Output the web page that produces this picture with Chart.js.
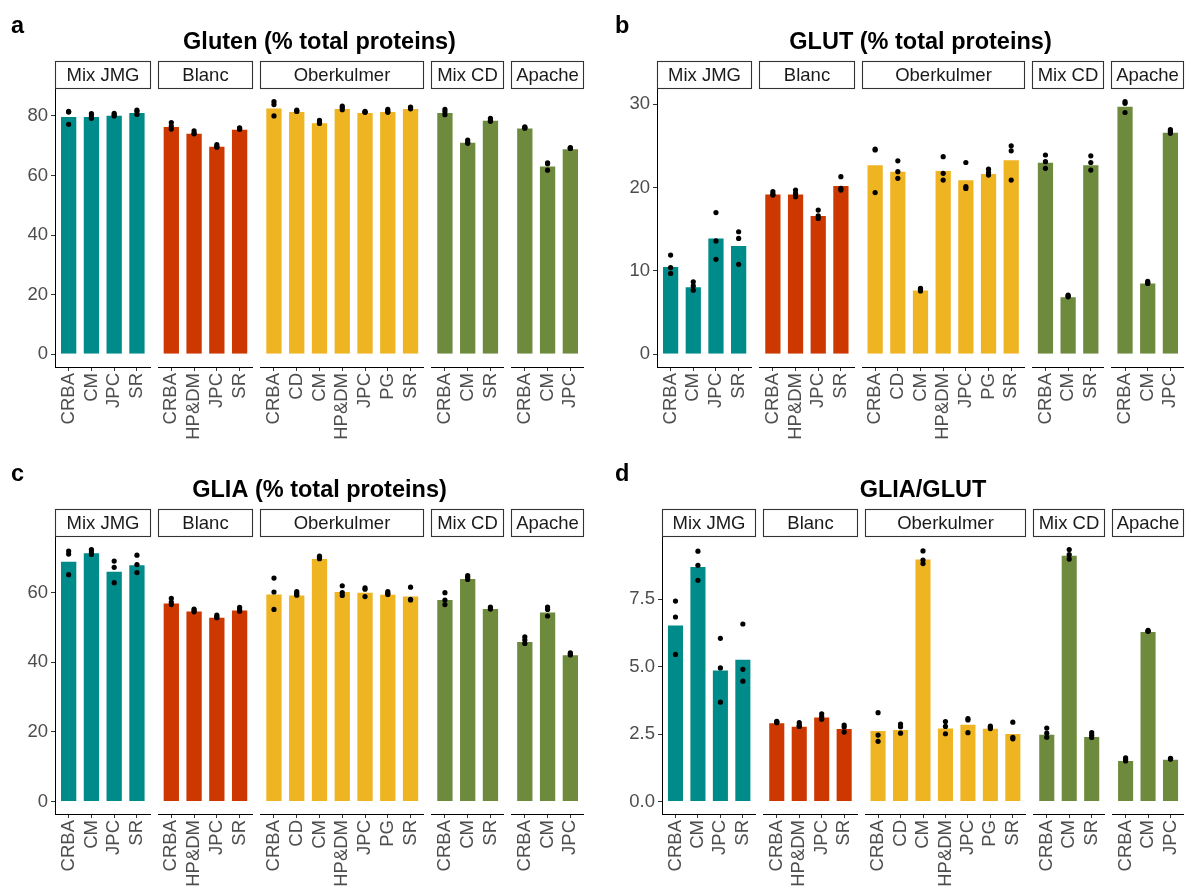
<!DOCTYPE html>
<html>
<head>
<meta charset="utf-8">
<script src="https://cdn.jsdelivr.net/npm/chart.js@4.4.1/dist/chart.umd.min.js"></script>
<style>
  body { margin: 0; background: #fff; width: 1188px; height: 886px; position: relative; overflow: hidden; }
  canvas { position: absolute; }
</style>
</head>
<body>
<canvas id="pa" width="594" height="443" style="left:0;top:0"></canvas>
<canvas id="pb" width="594" height="443" style="left:594px;top:0"></canvas>
<canvas id="pc" width="594" height="443" style="left:0;top:443px"></canvas>
<canvas id="pd" width="594" height="443" style="left:594px;top:443px"></canvas>
<script>
// varieties (facets) and the lines grown for each
const groups = ['Mix JMG', 'Blanc', 'Oberkulmer', 'Mix CD', 'Apache'];
const mixJmgLines = ['CRBA', 'CM', 'JPC', 'SR'];
const blancLines = ['CRBA', 'HP&DM', 'JPC', 'SR'];
const oberkulmerLines = ['CRBA', 'CD', 'CM', 'HP&DM', 'JPC', 'PG', 'SR'];
const mixCdLines = ['CRBA', 'CM', 'SR'];
const apacheLines = ['CRBA', 'CM', 'JPC'];

// a - Gluten (% total proteins)
const glutenMean = [80.0, 80.0, 80.4, 81.3, 76.6, 74.4, 70.0, 75.7, 82.8, 81.7, 77.9, 82.7, 81.3, 81.7, 82.7, 81.3, 71.3, 78.7, 76.1, 63.4, 69.2];
const glutenReps = [[81.5, 81.3, 77.2], [80.8, 80.0, 79.2], [80.9, 80.3, 80.0], [82.0, 81.5, 80.5],
  [77.8, 76.6, 75.6], [75.0, 74.2, 74.0], [70.4, 69.8, 69.5], [76.0, 75.8, 75.5],
  [84.8, 83.8, 80.0], [82.0, 81.7, 81.5], [78.5, 77.8, 77.5], [83.3, 82.8, 82.1], [81.5, 81.3, 81.2], [82.2, 81.6, 81.2], [83.0, 82.8, 82.4],
  [82.2, 81.4, 80.4], [71.9, 71.2, 70.8], [79.2, 78.5, 78.2],
  [76.3, 76.1, 75.9], [64.3, 64.0, 61.8], [69.4, 69.2, 69.1]];
const glutenTicks = [0, 20, 40, 60, 80];

// b - GLUT (% total proteins)
const glutMean = [10.6, 8.17, 14.0, 13.1, 19.3, 19.3, 16.7, 20.3, 22.8, 22.0, 7.77, 22.1, 21.0, 21.75, 23.4, 23.1, 6.97, 22.8, 29.8, 8.61, 26.7];
const glutReps = [[11.9, 10.4, 9.7], [8.7, 8.2, 7.7], [17.0, 13.6, 11.4], [14.7, 13.9, 10.8],
  [19.5, 19.2, 19.1], [19.7, 19.3, 18.9], [17.3, 16.6, 16.3], [21.3, 19.9, 19.7],
  [24.6, 24.5, 19.4], [23.2, 21.9, 21.1], [7.9, 7.8, 7.6], [23.7, 21.7, 20.9], [23.0, 20.1, 19.9], [22.2, 21.8, 21.5], [25.0, 24.4, 20.9],
  [23.9, 23.1, 22.3], [7.1, 7.0, 6.9], [23.8, 23.0, 22.1],
  [30.3, 30.1, 29.0], [8.75, 8.6, 8.5], [26.95, 26.75, 26.5]];
const glutTicks = [0, 10, 20, 30];

// c - GLIA (% total proteins)
const gliaMean = [69.2, 71.6, 66.3, 68.2, 57.2, 54.9, 53.1, 55.2, 59.8, 59.5, 70.0, 60.5, 60.3, 59.7, 59.2, 58.2, 64.2, 55.6, 46.1, 54.6, 42.3];
const gliaReps = [[72.0, 71.1, 65.2], [72.4, 71.7, 71.0], [69.1, 67.3, 62.9], [70.8, 68.1, 65.8],
  [58.4, 57.3, 56.6], [55.3, 54.9, 54.5], [53.6, 53.1, 52.8], [55.8, 55.2, 54.7],
  [64.2, 60.2, 55.2], [60.3, 59.8, 59.3], [70.5, 70.1, 69.8], [62.0, 60.0, 59.2], [61.4, 61.0, 58.9], [60.3, 59.8, 59.5], [61.6, 58.1, 57.9],
  [60.0, 57.9, 56.6], [64.9, 64.4, 63.8], [55.9, 55.6, 55.3],
  [47.3, 46.4, 45.4], [55.9, 55.2, 53.3], [42.7, 42.4, 42.1]];
const gliaTicks = [0, 20, 40, 60];

// d - GLIA/GLUT
const ratioMean = [6.56, 8.73, 4.89, 5.29, 2.94, 2.81, 3.15, 2.72, 2.65, 2.69, 9.01, 2.74, 2.88, 2.73, 2.54, 2.51, 9.15, 2.43, 1.54, 6.32, 1.58];
const ratioReps = [[7.43, 6.84, 5.45], [9.28, 8.76, 8.2], [6.05, 4.95, 3.68], [6.58, 4.9, 4.46],
  [2.97, 2.95, 2.92], [2.92, 2.82, 2.78], [3.25, 3.15, 3.05], [2.83, 2.76, 2.57],
  [3.29, 2.46, 2.23], [2.87, 2.77, 2.53], [9.29, 8.95, 8.82], [2.96, 2.78, 2.51], [3.07, 3.02, 2.55], [2.79, 2.75, 2.70], [2.94, 2.38, 2.32],
  [2.72, 2.53, 2.38], [9.34, 9.15, 8.99], [2.55, 2.45, 2.37],
  [1.62, 1.55, 1.50], [6.34, 6.32, 6.31], [1.60, 1.58, 1.57]];
const ratioTicks = [0, 2.5, 5, 7.5];

const facetColors = ['#008B8B', '#CD3700', '#EEB422', '#6E8B3D', '#6E8B3D'];
const FONT = '"Liberation Sans", Arial, Helvetica, sans-serif';

// facet layout along one continuous x axis (ggplot-like 0.6 expansion, small gap)
const lineSets = [mixJmgLines, blancLines, oberkulmerLines, mixCdLines, apacheLines];
const padU = 0.6, gapU = 0.31;
const facets = [], xPos = [], allLines = [], barColors = [];
let s = 0;
lineSets.forEach((lines, k) => {
  const start = s;
  lines.forEach((l, i) => {
    xPos.push(start + padU + i);
    allLines.push(l);
    barColors.push(facetColors[k]);
  });
  const end = start + lines.length - 1 + 2 * padU;
  facets.push({ start, end, name: groups[k] });
  s = end + gapU;
});
const xMax = s - gapU;

const facetPlugin = {
  id: 'facets',
  afterDraw(chart) {
    const o = chart.options.plugins.facets;
    const { ctx, chartArea: ca } = chart;
    const x = chart.scales.x;
    ctx.save();
    facets.forEach(f => {
      const x0 = Math.round(x.getPixelForValue(f.start));
      const x1 = Math.round(x.getPixelForValue(f.end));
      const top = Math.round(ca.top) - 28;
      ctx.fillStyle = '#fff';
      ctx.fillRect(x0, top, x1 - x0, 27);
      ctx.strokeStyle = '#333';
      ctx.lineWidth = 1.1;
      ctx.strokeRect(x0 + 0.5, top + 0.5, x1 - x0 - 1, 27);
      ctx.fillStyle = '#1A1A1A';
      ctx.font = '18.5px ' + FONT;
      ctx.textAlign = 'center';
      ctx.textBaseline = 'middle';
      ctx.fillText(f.name, (x0 + x1) / 2, top + 15);
      // x axis line, one piece per facet
      ctx.strokeStyle = '#000';
      ctx.lineWidth = 1;
      ctx.beginPath();
      ctx.moveTo(x0, Math.round(ca.bottom) + 0.5);
      ctx.lineTo(x1, Math.round(ca.bottom) + 0.5);
      ctx.stroke();
    });
    ctx.fillStyle = '#000';
    ctx.font = 'bold 23.5px ' + FONT;
    ctx.textAlign = 'center';
    ctx.textBaseline = 'alphabetic';
    ctx.fillText(o.title, (ca.left + ca.right) / 2, ca.top - 40);
    ctx.textAlign = 'left';
    ctx.fillText(o.letter, o.letterX, ca.top - 56);
    ctx.restore();
  }
};

function makePanel(id, letter, title, means, reps, ticks, dec, area) {
  const M = Math.max(...reps.flat(), ...means);
  const dots = [];
  reps.forEach((r, i) => r.forEach(v => dots.push({ x: xPos[i], y: v })));
  new Chart(document.getElementById(id), {
    type: 'bar',
    data: {
      datasets: [
        {
          type: 'scatter',
          data: dots,
          pointRadius: 2.6,
          pointBackgroundColor: '#000',
          pointBorderWidth: 0,
          order: 1
        },
        {
          type: 'bar',
          data: xPos.map((x, i) => ({ x, y: means[i] })),
          backgroundColor: barColors,
          borderColor: 'rgba(255,255,255,0.3)',
          borderWidth: 1,
          barPercentage: 0.76,
          categoryPercentage: 1,
          order: 2
        }
      ]
    },
    options: {
      responsive: false,
      animation: false,
      events: [],
      layout: { padding: { left: 0, right: 594 - area.r, top: area.t, bottom: 0 } },
      plugins: {
        legend: { display: false },
        tooltip: { enabled: false },
        facets: { title, letter, letterX: area.letterX }
      },
      scales: {
        x: {
          type: 'linear',
          offset: false,
          min: 0,
          max: xMax,
          afterBuildTicks: sc => { sc.ticks = xPos.map(v => ({ value: v })); },
          afterFit: sc => { sc.height = 443 - area.b; sc.paddingLeft = 0; sc.paddingRight = 0; },
          ticks: {
            autoSkip: false,
            minRotation: 90,
            maxRotation: 90,
            padding: 2,
            color: '#4D4D4D',
            font: { size: 18.5, family: FONT },
            callback: (v, i) => allLines[i]
          },
          grid: { offset: false, drawOnChartArea: false, tickLength: 4, color: '#333' },
          border: { display: false }
        },
        y: {
          min: -0.05 * M,
          max: 1.05 * M,
          afterBuildTicks: sc => { sc.ticks = ticks.map(v => ({ value: v })); },
          afterFit: sc => { sc.width = area.l; },
          ticks: {
            padding: 3,
            color: '#4D4D4D',
            font: { size: 18.5, family: FONT },
            callback: v => dec ? v.toFixed(1) : v
          },
          grid: { drawOnChartArea: false, tickLength: 4, color: '#333' },
          border: { display: true, color: '#000', width: 1 }
        }
      }
    },
    plugins: [facetPlugin]
  });
}

makePanel('pa', 'a', 'Gluten (% total proteins)', glutenMean, glutenReps, glutenTicks, false, { l: 55, r: 584, t: 89, b: 367, letterX: 11 });
makePanel('pb', 'b', 'GLUT (% total proteins)', glutMean, glutReps, glutTicks, false, { l: 63, r: 593, t: 89, b: 367, letterX: 21 });
makePanel('pc', 'c', 'GLIA (% total proteins)', gliaMean, gliaReps, gliaTicks, false, { l: 55, r: 584, t: 94, b: 371, letterX: 11 });
makePanel('pd', 'd', 'GLIA/GLUT', ratioMean, ratioReps, ratioTicks, true, { l: 68, r: 593, t: 94, b: 371, letterX: 21 });
</script>
</body>
</html>
